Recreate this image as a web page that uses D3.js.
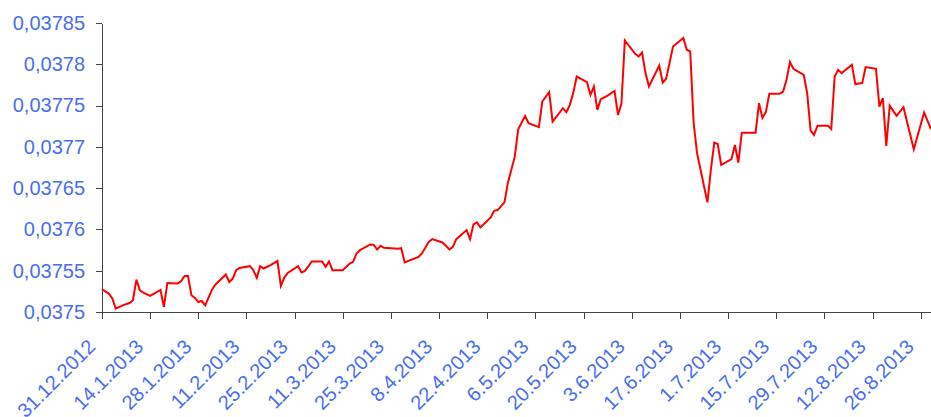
<!DOCTYPE html>
<html>
<head>
    <meta charset="utf-8">
    <title>Kurs 2013</title>
    <script src="https://d3js.org/d3.v7.min.js"></script>
    <style>
        body { margin: 0; background: #fff; }
        .axis path, .axis line { stroke: #444; shape-rendering: crispEdges; }
        .axis text {
            font-family: "Liberation Sans", Arial, Helvetica, sans-serif;
            font-size: 20px;
            fill: #4a6ef0;
        }
        .line { fill: none; stroke: #ff0000; stroke-width: 2px; }
    </style>
</head>
<body>
<div id="chart"></div>
<script>
    const dates = [
        "2012-12-31","2013-01-02","2013-01-03","2013-01-04","2013-01-06","2013-01-08","2013-01-09","2013-01-10","2013-01-11","2013-01-12",
        "2013-01-14","2013-01-17","2013-01-18","2013-01-19","2013-01-22","2013-01-23","2013-01-24","2013-01-25","2013-01-26","2013-01-27",
        "2013-01-28","2013-01-29","2013-01-30","2013-02-01","2013-02-02","2013-02-05","2013-02-06","2013-02-07","2013-02-08","2013-02-09",
        "2013-02-12","2013-02-13","2013-02-14","2013-02-15","2013-02-16","2013-02-18","2013-02-20","2013-02-21","2013-02-22","2013-02-23",
        "2013-02-26","2013-02-27","2013-02-28","2013-03-02","2013-03-05","2013-03-06","2013-03-07","2013-03-08","2013-03-11","2013-03-13",
        "2013-03-14","2013-03-15","2013-03-16","2013-03-19","2013-03-20","2013-03-21","2013-03-22","2013-03-23","2013-03-27","2013-03-28",
        "2013-03-29","2013-04-02","2013-04-03","2013-04-05","2013-04-06","2013-04-09","2013-04-11","2013-04-12","2013-04-13","2013-04-16",
        "2013-04-17","2013-04-18","2013-04-19","2013-04-20","2013-04-23","2013-04-24","2013-04-25","2013-04-27","2013-04-28","2013-04-30",
        "2013-05-01","2013-05-03","2013-05-04","2013-05-07","2013-05-08","2013-05-10","2013-05-11","2013-05-14","2013-05-15","2013-05-16",
        "2013-05-17","2013-05-18","2013-05-21","2013-05-22","2013-05-23","2013-05-24","2013-05-25","2013-05-27","2013-05-29","2013-05-30",
        "2013-05-31","2013-06-01","2013-06-04","2013-06-05","2013-06-06","2013-06-07","2013-06-08","2013-06-11","2013-06-12","2013-06-13",
        "2013-06-15","2013-06-18","2013-06-19","2013-06-20","2013-06-21","2013-06-22","2013-06-25","2013-06-26","2013-06-27","2013-06-28",
        "2013-06-29","2013-07-02","2013-07-03","2013-07-04","2013-07-05","2013-07-09","2013-07-10","2013-07-11","2013-07-12","2013-07-13",
        "2013-07-16","2013-07-17","2013-07-18","2013-07-19","2013-07-20","2013-07-23","2013-07-24","2013-07-25","2013-07-26","2013-07-27",
        "2013-07-30","2013-07-31","2013-08-01","2013-08-02","2013-08-03","2013-08-06","2013-08-07","2013-08-09","2013-08-10","2013-08-13",
        "2013-08-14","2013-08-15","2013-08-16","2013-08-17","2013-08-19","2013-08-21","2013-08-24","2013-08-27","2013-08-29"
    ];

    const values = [
        0.0375275,0.0375223,0.0375163,0.0375041,0.0375081,0.0375109,0.0375142,0.0375393,0.0375263,0.0375235,
        0.0375194,0.0375267,0.0375061,0.0375352,0.0375345,0.0375373,0.0375437,0.0375437,0.0375203,0.0375170,
        0.0375121,0.0375133,0.0375081,0.0375272,0.0375333,0.0375454,0.0375364,0.0375405,0.0375506,0.0375534,
        0.0375555,0.0375506,0.0375413,0.0375555,0.0375527,0.0375567,0.0375619,0.0375316,0.0375417,0.0375473,
        0.0375555,0.0375478,0.0375498,0.0375612,0.0375612,0.0375546,0.0375612,0.0375506,0.0375506,0.0375587,
        0.0375607,0.0375709,0.0375749,0.0375818,0.0375813,0.0375757,0.0375801,0.0375777,0.0375765,0.0375773,
        0.0375600,0.0375667,0.0375709,0.0375850,0.0375882,0.0375842,0.0375757,0.0375789,0.0375882,0.0375992,
        0.0375882,0.0376061,0.0376085,0.0376024,0.0376146,0.0376226,0.0376234,0.0376328,0.0376566,0.0376881,
        0.0377214,0.0377375,0.0377286,0.0377238,0.0377549,0.0377663,0.0377306,0.0377468,0.0377420,0.0377509,
        0.0377651,0.0377852,0.0377784,0.0377630,0.0377731,0.0377448,0.0377578,0.0377621,0.0377678,0.0377387,
        0.0377521,0.0378289,0.0378127,0.0378095,0.0378143,0.0377893,0.0377731,0.0377985,0.0377779,0.0377824,
        0.0378216,0.0378318,0.0378176,0.0378155,0.0377286,0.0376922,0.0376328,0.0376720,0.0377051,0.0377035,
        0.0376780,0.0376853,0.0377023,0.0376808,0.0377172,0.0377172,0.0377529,0.0377351,0.0377424,0.0377642,
        0.0377642,0.0377670,0.0377812,0.0378027,0.0377945,0.0377873,0.0377651,0.0377197,0.0377144,0.0377257,
        0.0377257,0.0377217,0.0377852,0.0377933,0.0377893,0.0377994,0.0377760,0.0377772,0.0377966,0.0377945,
        0.0377488,0.0377590,0.0377011,0.0377500,0.0377375,0.0377481,0.0376971,0.0377415,0.0377214
    ];

    const xTickLabels = [
        "31.12.2012","14.1.2013","28.1.2013","11.2.2013","25.2.2013","11.3.2013","25.3.2013","8.4.2013","22.4.2013",
        "6.5.2013","20.5.2013","3.6.2013","17.6.2013","1.7.2013","15.7.2013","29.7.2013","12.8.2013","26.8.2013"
    ];
    const yTicks = [0.0375, 0.03755, 0.0376, 0.03765, 0.0377, 0.03775, 0.0378, 0.03785];

    const width = 931, height = 417;
    const margin = {top: 23, right: 0, bottom: 105, left: 102};

    const parseDate = d3.timeParse("%Y-%m-%d");
    const parseTick = d3.timeParse("%-d.%-m.%Y");
    const fmtTick = d3.timeFormat("%-d.%-m.%Y");
    const locale = d3.formatLocale({decimal: ",", thousands: ".", grouping: [3], currency: ["", ""]});
    const fmtY = locale.format(".5~f");

    const data = dates.map((d, i) => ({date: parseDate(d), value: values[i]}));
    const tickDates = xTickLabels.map(parseTick);

    const svg = d3.select("#chart").append("svg")
        .attr("width", width)
        .attr("height", height);

    const x = d3.scaleTime()
        .domain([tickDates[0], data[data.length - 1].date])
        .range([margin.left, width - margin.right]);

    const y = d3.scaleLinear()
        .domain([yTicks[0], yTicks[yTicks.length - 1]])
        .range([height - margin.bottom, margin.top]);

    // x axis
    const gx = svg.append("g")
        .attr("class", "axis")
        .attr("transform", `translate(0,${height - margin.bottom})`)
        .call(d3.axisBottom(x).tickValues(tickDates).tickFormat(fmtTick).tickSize(7).tickSizeOuter(0));

    gx.selectAll("text")
        .attr("x", 0)
        .attr("y", 0)
        .attr("dy", 0)
        .attr("transform", "translate(-6,36) rotate(-45)")
        .style("text-anchor", "end");

    // y axis
    svg.append("g")
        .attr("class", "axis")
        .attr("transform", `translate(${margin.left},0)`)
        .call(d3.axisLeft(y).tickValues(yTicks).tickFormat(fmtY).tickSize(6).tickPadding(11).tickSizeOuter(0));

    const line = d3.line()
        .x(d => x(d.date))
        .y(d => y(d.value));

    svg.append("path")
        .datum(data)
        .attr("class", "line")
        .attr("d", line);
</script>
</body>
</html>
